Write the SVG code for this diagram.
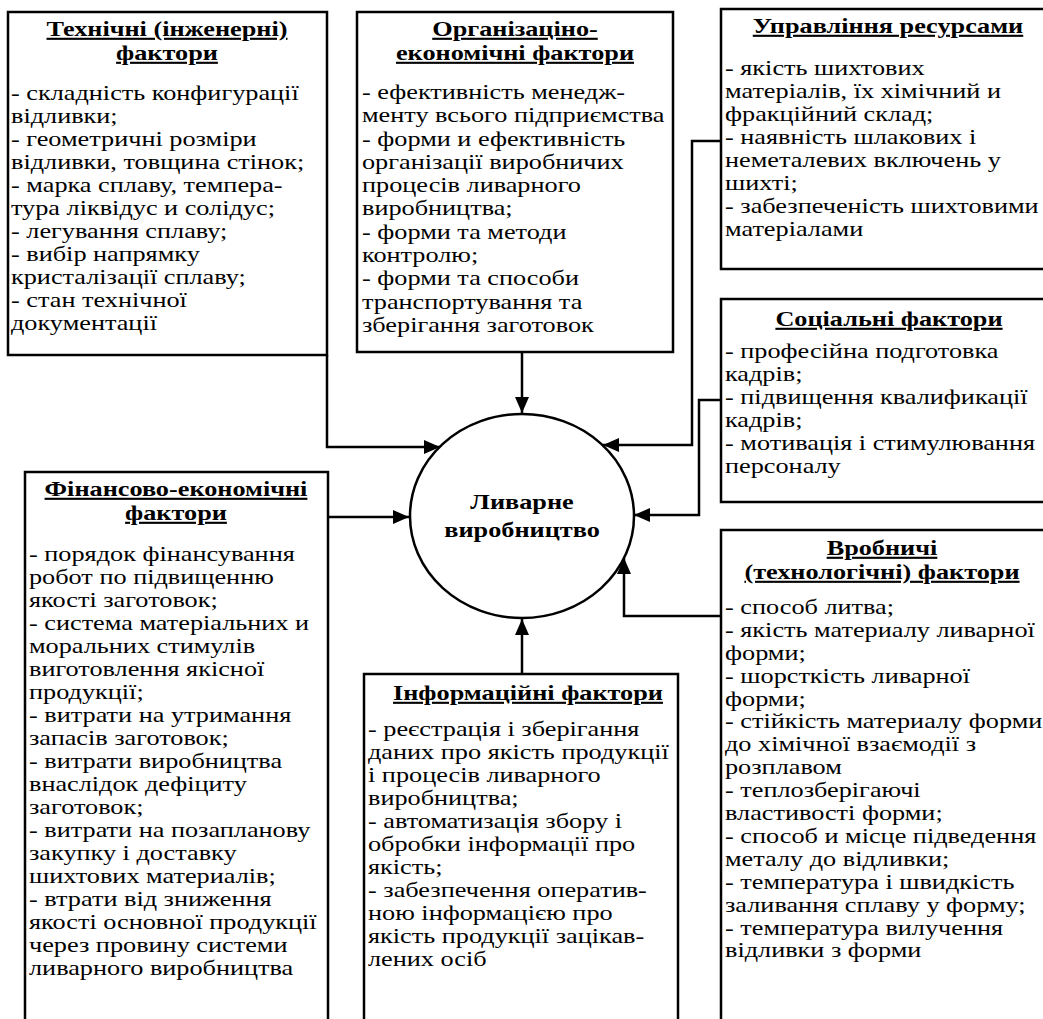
<svg xmlns="http://www.w3.org/2000/svg" width="1043" height="1019" viewBox="0 0 1043 1019">
<style>
.box{fill:#fff;stroke:#000;stroke-width:2.5}
.ell{fill:#fff;stroke:#000;stroke-width:2.5}
text{font-family:"Liberation Serif","Times New Roman",serif;font-size:21px;fill:#000}
.title{font-weight:bold;text-decoration:underline;text-anchor:middle}
.center{font-weight:bold;text-anchor:middle}
.conn{fill:none;stroke:#000;stroke-width:2.5}
</style>
<defs>
<marker id="arr" markerUnits="userSpaceOnUse" markerWidth="17" markerHeight="14" refX="16" refY="7" orient="auto">
<path d="M0,0 L16,7 L0,14 z" fill="#000"/>
</marker>
</defs>
<rect width="1043" height="1019" fill="#fff"/>

<g id="connectors">
<path class="conn" d="M522,352 V413" marker-end="url(#arr)"/>
<path class="conn" d="M327,355 V447 H440" marker-end="url(#arr)"/>
<path class="conn" d="M721,141 H692 V445 H603" marker-end="url(#arr)"/>
<path class="conn" d="M721,400 H699 V515 H634" marker-end="url(#arr)"/>
<path class="conn" d="M328,517 H409" marker-end="url(#arr)"/>
<path class="conn" d="M721,616 H624 V558" marker-end="url(#arr)"/>
<path class="conn" d="M522,674 V619" marker-end="url(#arr)"/>
</g>

<g id="n-tech">
<rect class="box" x="8" y="12" width="319" height="343"/>
<g transform="matrix(1.25 0 0 1 11 0)">
<text class="title" x="124.8" y="36">Технічні (інженерні)</text>
<text class="title" x="124.8" y="60">фактори</text>
<text x="0" y="100"><tspan x="0">- складність конфигурації</tspan><tspan x="0" dy="23">відливки;</tspan><tspan x="0" dy="23">- геометричні розміри</tspan><tspan x="0" dy="23">відливки, товщина стінок;</tspan><tspan x="0" dy="23">- марка сплаву, темпера-</tspan><tspan x="0" dy="23">тура ліквідус и солідус;</tspan><tspan x="0" dy="23">- легування сплаву;</tspan><tspan x="0" dy="23">- вибір напрямку</tspan><tspan x="0" dy="23">кристалізації сплаву;</tspan><tspan x="0" dy="23">- стан технічної</tspan><tspan x="0" dy="23">документації</tspan></text>
</g>
</g>

<g id="n-org">
<rect class="box" x="357" y="12" width="316" height="340"/>
<g transform="matrix(1.25 0 0 1 362 0)">
<text class="title" x="122.4" y="36">Організаціно-</text>
<text class="title" x="122.4" y="60">економічні фактори</text>
<text x="0" y="99"><tspan x="0">- ефективність менедж-</tspan><tspan x="0" dy="23.3">менту всього підприємства</tspan><tspan x="0" dy="23.3">- форми и ефективність</tspan><tspan x="0" dy="23.3">організації виробничих</tspan><tspan x="0" dy="23.3">процесів ливарного</tspan><tspan x="0" dy="23.3">виробництва;</tspan><tspan x="0" dy="23.3">- форми та методи</tspan><tspan x="0" dy="23.3">контролю;</tspan><tspan x="0" dy="23.3">- форми та способи</tspan><tspan x="0" dy="23.3">транспортування та</tspan><tspan x="0" dy="23.3">зберігання заготовок</tspan></text>
</g>
</g>

<g id="n-resources">
<rect class="box" x="721" y="9" width="340" height="260"/>
<g transform="matrix(1.25 0 0 1 725 0)">
<text class="title" x="130.4" y="33">Управління ресурсами</text>
<text x="0" y="75"><tspan x="0">- якість шихтових</tspan><tspan x="0" dy="23">матеріалів, їх хімічний и</tspan><tspan x="0" dy="23">фракційний склад;</tspan><tspan x="0" dy="23">- наявність шлакових і</tspan><tspan x="0" dy="23">неметалевих включень у</tspan><tspan x="0" dy="23">шихті;</tspan><tspan x="0" dy="23">- забезпеченість шихтовими</tspan><tspan x="0" dy="23">матеріалами</tspan></text>
</g>
</g>

<g id="n-social">
<rect class="box" x="721" y="299" width="340" height="203"/>
<g transform="matrix(1.25 0 0 1 725 0)">
<text class="title" x="131.2" y="326">Соціальні фактори</text>
<text x="0" y="358"><tspan x="0">- професійна подготовка</tspan><tspan x="0" dy="23">кадрів;</tspan><tspan x="0" dy="23">- підвищення квалификації</tspan><tspan x="0" dy="23">кадрів;</tspan><tspan x="0" dy="23">- мотивація і стимулювання</tspan><tspan x="0" dy="23">персоналу</tspan></text>
</g>
</g>

<g id="n-production">
<rect class="box" x="721" y="530" width="340" height="520"/>
<g transform="matrix(1.25 0 0 1 725 0)">
<text class="title" x="125.6" y="555">Вробничі</text>
<text class="title" x="125.6" y="579">(технологічні) фактори</text>
<text x="0" y="614"><tspan x="0">- способ литва;</tspan><tspan x="0" dy="22.9">- якість материалу ливарної</tspan><tspan x="0" dy="22.9">форми;</tspan><tspan x="0" dy="22.9">- шорсткість ливарної</tspan><tspan x="0" dy="22.9">форми;</tspan><tspan x="0" dy="22.9">- стійкість материалу форми</tspan><tspan x="0" dy="22.9">до хімічної взаємодії з</tspan><tspan x="0" dy="22.9">розплавом</tspan><tspan x="0" dy="22.9">- теплозберігаючі</tspan><tspan x="0" dy="22.9">властивості форми;</tspan><tspan x="0" dy="22.9">- способ и місце підведення</tspan><tspan x="0" dy="22.9">металу до відливки;</tspan><tspan x="0" dy="22.9">- температура і швидкість</tspan><tspan x="0" dy="22.9">заливання сплаву у форму;</tspan><tspan x="0" dy="22.9">- температура вилучення</tspan><tspan x="0" dy="22.9">відливки з форми</tspan></text>
</g>
</g>

<g id="n-finance">
<rect class="box" x="25" y="472" width="303" height="580"/>
<g transform="matrix(1.25 0 0 1 29 0)">
<text class="title" x="117.6" y="496">Фінансово-економічні</text>
<text class="title" x="117.6" y="520">фактори</text>
<text x="0" y="561"><tspan x="0">- порядок фінансування</tspan><tspan x="0" dy="23">робот по підвищенню</tspan><tspan x="0" dy="23">якості заготовок;</tspan><tspan x="0" dy="23">- система матеріальних и</tspan><tspan x="0" dy="23">моральних стимулів</tspan><tspan x="0" dy="23">виготовлення якісної</tspan><tspan x="0" dy="23">продукції;</tspan><tspan x="0" dy="23">- витрати на утримання</tspan><tspan x="0" dy="23">запасів заготовок;</tspan><tspan x="0" dy="23">- витрати виробництва</tspan><tspan x="0" dy="23">внаслідок дефіциту</tspan><tspan x="0" dy="23">заготовок;</tspan><tspan x="0" dy="23">- витрати на позапланову</tspan><tspan x="0" dy="23">закупку і доставку</tspan><tspan x="0" dy="23">шихтових материалів;</tspan><tspan x="0" dy="23">- втрати від зниження</tspan><tspan x="0" dy="23">якості основної продукції</tspan><tspan x="0" dy="23">через провину системи</tspan><tspan x="0" dy="23">ливарного виробництва</tspan></text>
</g>
</g>

<g id="n-info">
<rect class="box" x="364" y="674" width="314" height="380"/>
<g transform="matrix(1.25 0 0 1 368 0)">
<text class="title" x="128" y="700">Інформаційні фактори</text>
<text x="0" y="736"><tspan x="0">- реєстрація і зберігання</tspan><tspan x="0" dy="23">даних про якість продукції</tspan><tspan x="0" dy="23">і процесів ливарного</tspan><tspan x="0" dy="23">виробництва;</tspan><tspan x="0" dy="23">- автоматизація збору і</tspan><tspan x="0" dy="23">обробки інформації про</tspan><tspan x="0" dy="23">якість;</tspan><tspan x="0" dy="23">- забезпечення оператив-</tspan><tspan x="0" dy="23">ною інформацією про</tspan><tspan x="0" dy="23">якість продукції зацікав-</tspan><tspan x="0" dy="23">лених осіб</tspan></text>
</g>
</g>

<g id="n-center">
<ellipse class="ell" cx="522" cy="516" rx="112" ry="102"/>
<g transform="matrix(1.25 0 0 1 522 0)">
<text class="center" x="0" y="509">Ливарне</text>
<text class="center" x="0" y="537">виробництво</text>
</g>
</g>
</svg>
